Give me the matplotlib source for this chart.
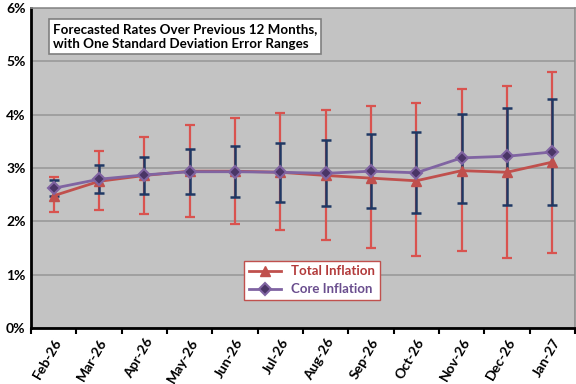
import numpy as np
import matplotlib
matplotlib.use("Agg")
import matplotlib.pyplot as plt

months = ["Feb-26", "Mar-26", "Apr-26", "May-26", "Jun-26", "Jul-26",
          "Aug-26", "Sep-26", "Oct-26", "Nov-26", "Dec-26", "Jan-27"]

# forecast means and one-std ranges, in percent
total = [2.48, 2.75, 2.86, 2.94, 2.94, 2.92, 2.86, 2.81, 2.76, 2.95, 2.92, 3.11]
total_hi = [2.83, 3.32, 3.58, 3.80, 3.94, 4.03, 4.09, 4.16, 4.21, 4.48, 4.54, 4.81]
total_lo = [2.17, 2.22, 2.14, 2.08, 1.95, 1.83, 1.65, 1.50, 1.34, 1.44, 1.32, 1.40]

core = [2.62, 2.79, 2.87, 2.93, 2.93, 2.92, 2.90, 2.94, 2.91, 3.19, 3.22, 3.30]
core_hi = [2.78, 3.05, 3.21, 3.35, 3.42, 3.46, 3.53, 3.63, 3.68, 4.01, 4.13, 4.29]
core_lo = [2.47, 2.53, 2.52, 2.52, 2.46, 2.36, 2.29, 2.25, 2.15, 2.35, 2.30, 2.31]

red = "#C0504D"
purple = "#8064A2"
navy = "#1F3864"
font = ["Lato", "DejaVu Sans"]

x = np.arange(len(months))
total = np.array(total)
core = np.array(core)

fig = plt.figure(figsize=(5.76, 3.84), dpi=100)
ax = fig.add_axes([0.054, 0.146, 0.944, 0.833])
ax.set_facecolor("#C3C3C3")

ax.errorbar(x, total, yerr=[total - np.array(total_lo), np.array(total_hi) - total],
            fmt="none", ecolor="#D9534F", elinewidth=1.6, capsize=3.5, capthick=1.6, zorder=2)
ax.errorbar(x, core, yerr=[core - np.array(core_lo), np.array(core_hi) - core],
            fmt="none", ecolor=navy, elinewidth=1.8, capsize=3.5, capthick=1.8, zorder=3)

ax.plot(x, total, color=red, lw=2, marker="^", ms=7, mfc=red, mec=red,
        label="Total Inflation", zorder=4)
ax.plot(x, core, color=purple, lw=2, marker="D", ms=6.5, mfc="#4A3566", mec=purple,
        mew=1.5, label="Core Inflation", zorder=5)

ax.set_xlim(-0.5, len(months) - 0.5)
ax.set_ylim(0, 6)
ax.set_yticks(range(7))
ax.set_yticklabels([f"{v}%" for v in range(7)], fontfamily=font, fontweight="bold", fontsize=10)
ax.yaxis.grid(True, color="#9A9A9A", lw=1.2)
ax.set_axisbelow(True)
ax.tick_params(axis="y", length=0, pad=4)

ax.set_xticks(x)
ax.set_xticklabels(months, rotation=60, ha="right", rotation_mode="anchor",
                   fontfamily=font, fontweight="bold", fontsize=10)
ax.tick_params(axis="x", which="major", length=0, pad=6)
ax.set_xticks(np.arange(-0.5, len(months)), minor=True)
ax.tick_params(axis="x", which="minor", length=4, width=1.5, direction="out")

for s in ["left", "bottom"]:
    ax.spines[s].set_color("black")
    ax.spines[s].set_linewidth(2)
for s in ["right", "top"]:
    ax.spines[s].set_color("#8C8C8C")
    ax.spines[s].set_linewidth(1.2)

ax.text(0.04, 0.952, "Forecasted Rates Over Previous 12 Months,\nwith One Standard Deviation Error Ranges",
        transform=ax.transAxes, ha="left", va="top", fontsize=9.6, fontweight="bold",
        fontfamily=font, linespacing=1.3,
        bbox=dict(boxstyle="square,pad=0.3", fc="white", ec="#7F7F7F", lw=1.2))

leg = ax.legend(loc="lower left", bbox_to_anchor=(0.392, 0.088), frameon=True, fancybox=False,
                edgecolor=red, framealpha=1, borderpad=0.35, borderaxespad=0, handlelength=2.4,
                labelspacing=0.45, prop={"family": font, "weight": "bold", "size": 9.5})
leg.get_frame().set_linewidth(1)
for t, c in zip(leg.get_texts(), ["#B23A3A", "#6A4E8E"]):
    t.set_color(c)

fig.savefig("out.png", dpi=100)
